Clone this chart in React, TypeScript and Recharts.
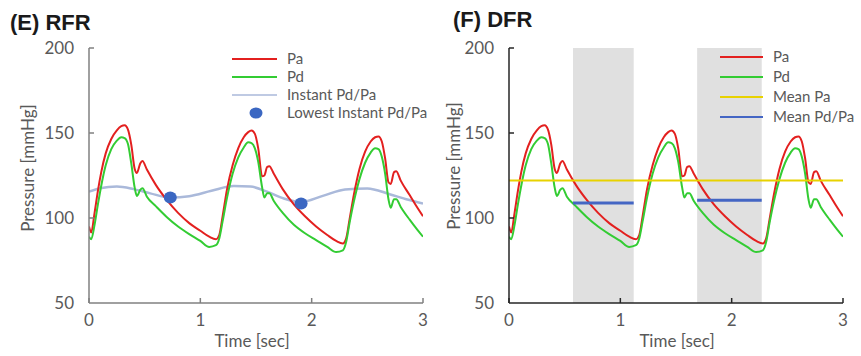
import React from 'react';
import { ComposedChart, Line, XAxis, YAxis, Scatter, ReferenceArea, ReferenceLine, Legend } from 'recharts';

// ---- data ----
const timeSec = [0, 0.02, 0.05, 0.08, 0.11, 0.15, 0.2, 0.25, 0.29, 0.32, 0.35, 0.38, 0.41, 0.43, 0.46, 0.48, 0.52, 0.6, 0.7, 0.8, 0.9, 1.0, 1.08, 1.14, 1.17, 1.2, 1.24, 1.29, 1.34, 1.39, 1.43, 1.46, 1.49, 1.52, 1.555, 1.575, 1.6, 1.62, 1.66, 1.74, 1.84, 1.94, 2.04, 2.14, 2.22, 2.28, 2.31, 2.34, 2.38, 2.43, 2.48, 2.53, 2.57, 2.6, 2.63, 2.66, 2.69, 2.71, 2.74, 2.76, 2.8, 2.88, 2.95, 3.0];
const paValues = [95, 91.5, 103, 116, 127, 138, 146.5, 151.5, 154, 154.5, 152, 143, 129, 126.5, 132, 133.5, 128.5, 119.5, 110.5, 103, 97, 92.5, 89, 87.5, 90, 101, 117, 131, 141, 147.5, 150.5, 151.5, 149.5, 141, 124.5, 125, 130, 130.5, 126, 117, 108, 101, 95, 90, 86.5, 85, 88, 99, 114, 129, 139, 145, 147.5, 148, 145, 135, 121, 120, 127, 127.5, 122, 113.5, 106, 101];
const pdValues = [89, 87.5, 96, 108, 119, 131, 140.5, 145.5, 147.5, 147, 143.5, 132, 118, 113, 116.5, 117.5, 112.5, 107, 100.5, 95, 90.5, 86.5, 83, 84, 88, 98, 112, 126, 135.5, 141.5, 144.5, 144, 141, 133, 118, 112, 114.5, 114.5, 110, 103, 96, 91, 87, 83, 80, 81, 86, 97, 110, 123, 132.5, 138.5, 141, 140.5, 136, 126, 111, 106, 111, 111, 106.5, 99, 93, 89];

const instantTime = [0, 0.1, 0.25, 0.4, 0.55, 0.73, 0.9, 1.1, 1.3, 1.45, 1.6, 1.75, 1.9, 2.1, 2.3, 2.5, 2.7, 2.85, 3.0];
const instantValues = [115.5, 117.5, 118.5, 117, 114.5, 112, 112.8, 116, 118.8, 118.5, 115.5, 111.5, 109.3, 113, 116.8, 117.4, 114, 111, 108.5];

const lowestTime = [0.73, 1.905];
const lowestValues = [112, 108.5];

const meanPaValue = 122;
const windowStart = [0.575, 1.69];
const windowEnd = [1.12, 2.27];
const meanPdPaValues = [108.8, 110.5];

const xTicks = [0, 1, 2, 3];
const yTicks = [50, 100, 150, 200];

const waveData = timeSec.map((t, i) => ({ t, pa: paValues[i], pd: pdValues[i] }));
const instantData = instantTime.map((t, i) => ({ t, v: instantValues[i] }));
const lowestData = lowestTime.map((t, i) => ({ t, v: lowestValues[i] }));
const meanSegments = windowStart.map((s, i) => [
  { t: s, v: meanPdPaValues[i] },
  { t: windowEnd[i], v: meanPdPaValues[i] },
]);

// ---- styles ----
const FONT = 'Lato, "Liberation Sans", Arial, sans-serif';
const TITLE_FONT = '"Liberation Sans", Arial, sans-serif';
const TEXT = '#595959';
const RED = '#e3201f';
const GREEN = '#33cc33';
const LIGHTBLUE = '#aab9da';
const DOT = '#3b67c2';
const YELLOW = '#e8d200';
const MEANBLUE = '#4466c4';

const makeXTick = (color: string) => (props: any) => {
  const { x, y, payload } = props;
  return (
    <g>
      <line x1={x} x2={x} y1={y} y2={y - 5} stroke={color} strokeWidth={1.5} />
      <text x={x} y={y + 23} textAnchor="middle" fill={TEXT} fontSize={17} fontFamily={FONT}>
        {payload.value}
      </text>
    </g>
  );
};

const makeYTick = (color: string) => (props: any) => {
  const { x, y, payload } = props;
  return (
    <g>
      {payload.value !== 50 && <line x1={x} x2={x + 5} y1={y} y2={y} stroke={color} strokeWidth={1.5} />}
      <text x={x - 15} y={y} dy="0.36em" textAnchor="end" fill={TEXT} fontSize={17} fontFamily={FONT}>
        {payload.value}
      </text>
    </g>
  );
};

const yLabel = (cx: number, cy: number) => () => (
  <text
    x={cx}
    y={cy}
    transform={`rotate(-90 ${cx} ${cy})`}
    textAnchor="middle"
    dominantBaseline="central"
    fill={TEXT}
    fontSize={17}
    fontFamily={FONT}
  >
    Pressure [mmHg]
  </text>
);

const xLabel = (cx: number, by: number) => () => (
  <text x={cx} y={by} textAnchor="middle" fill={TEXT} fontSize={17} fontFamily={FONT}>
    Time [sec]
  </text>
);

const LeftLegend = () => (
  <svg width={215} height={76} style={{ display: 'block' }}>
    <line x1={7} x2={52} y1={11} y2={11} stroke={RED} strokeWidth={2} />
    <line x1={7} x2={52} y1={29} y2={29} stroke={GREEN} strokeWidth={2} />
    <line x1={7} x2={52} y1={47} y2={47} stroke={LIGHTBLUE} strokeWidth={1.5} />
    <ellipse cx={31} cy={65} rx={6.5} ry={5.5} fill={DOT} />
    {['Pa', 'Pd', 'Instant Pd/Pa', 'Lowest Instant Pd/Pa'].map((s, i) => (
      <text key={s} x={62} y={11 + 18 * i} dy="0.36em" fill={TEXT} fontSize={15} fontFamily={FONT}>
        {s}
      </text>
    ))}
  </svg>
);

const RightLegend = () => (
  <svg width={145} height={82} style={{ display: 'block' }}>
    <line x1={7} x2={50} y1={10} y2={10} stroke={RED} strokeWidth={2} />
    <line x1={7} x2={50} y1={30} y2={30} stroke={GREEN} strokeWidth={2} />
    <line x1={7} x2={50} y1={50} y2={50} stroke={YELLOW} strokeWidth={2} />
    <line x1={7} x2={50} y1={70} y2={70} stroke={MEANBLUE} strokeWidth={2} />
    {['Pa', 'Pd', 'Mean Pa', 'Mean Pd/Pa'].map((s, i) => (
      <text key={s} x={60} y={10 + 20 * i} dy="0.36em" fill={TEXT} fontSize={15} fontFamily={FONT}>
        {s}
      </text>
    ))}
  </svg>
);

export default function App() {
  const leftAxis = '#808080';
  const rightAxis = '#262626';
  return (
    <div style={{ position: 'absolute', left: 0, top: 0, width: 861, height: 356, background: '#fff' }}>
      <div style={{ position: 'absolute', left: 0, top: 0 }}>
        <ComposedChart width={430} height={356} data={waveData} margin={{ top: 48, right: 7, left: 0, bottom: 0 }}>
          <XAxis
            dataKey="t"
            type="number"
            domain={[0, 3]}
            ticks={xTicks}
            allowDataOverflow
            height={53}
            tickSize={0}
            tickMargin={0}
            tickLine={false}
            axisLine={{ stroke: leftAxis, strokeWidth: 1.5 }}
            tick={makeXTick(leftAxis)}
            label={{ content: xLabel(252, 347) }}
          />
          <YAxis
            type="number"
            domain={[50, 200]}
            ticks={yTicks}
            allowDataOverflow
            width={89}
            tickSize={0}
            tickMargin={0}
            tickLine={false}
            axisLine={{ stroke: leftAxis, strokeWidth: 1.5 }}
            tick={makeYTick(leftAxis)}
            label={{ content: yLabel(27, 168) }}
          />
          <Line data={instantData} dataKey="v" type="monotone" stroke={LIGHTBLUE} strokeWidth={2.5} dot={false} isAnimationActive={false} />
          <Line dataKey="pa" type="monotone" stroke={RED} strokeWidth={2} dot={false} isAnimationActive={false} />
          <Line dataKey="pd" type="monotone" stroke={GREEN} strokeWidth={2} dot={false} isAnimationActive={false} />
          <Scatter
            data={lowestData}
            dataKey="v"
            fill={DOT}
            isAnimationActive={false}
            shape={(p: any) => <ellipse cx={p.cx} cy={p.cy} rx={6.5} ry={6} fill={DOT} />}
          />
          <Legend
            layout="vertical"
            align="center"
            verticalAlign="middle"
            wrapperStyle={{ left: 225, top: 48, width: 215, height: 76 }}
            content={() => <LeftLegend />}
          />
        </ComposedChart>
      </div>
      <div style={{ position: 'absolute', left: 430, top: 0 }}>
        <ComposedChart width={431} height={356} data={waveData} margin={{ top: 48, right: 18, left: 0, bottom: 0 }}>
          <XAxis
            dataKey="t"
            type="number"
            domain={[0, 3]}
            ticks={xTicks}
            allowDataOverflow
            height={53}
            tickSize={0}
            tickMargin={0}
            tickLine={false}
            axisLine={{ stroke: rightAxis, strokeWidth: 1.5 }}
            tick={makeXTick(rightAxis)}
            label={{ content: xLabel(247, 347) }}
          />
          <YAxis
            type="number"
            domain={[50, 200]}
            ticks={yTicks}
            allowDataOverflow
            width={79}
            tickSize={0}
            tickMargin={0}
            tickLine={false}
            axisLine={{ stroke: rightAxis, strokeWidth: 1.5 }}
            tick={makeYTick(rightAxis)}
            label={{ content: yLabel(23, 166) }}
          />
          {windowStart.map((s, i) => (
            <ReferenceArea key={'a' + i} x1={s} x2={windowEnd[i]} y1={50} y2={200} fill="#e0e0e0" fillOpacity={1} stroke="none" />
          ))}
          <Line dataKey="pa" type="monotone" stroke={RED} strokeWidth={2} dot={false} isAnimationActive={false} />
          <Line dataKey="pd" type="monotone" stroke={GREEN} strokeWidth={2} dot={false} isAnimationActive={false} />
          <ReferenceLine y={meanPaValue} stroke={YELLOW} strokeWidth={2} />
          {meanSegments.map((seg, i) => (
            <Line key={'m' + i} data={seg} dataKey="v" type="linear" stroke={MEANBLUE} strokeWidth={3} dot={false} isAnimationActive={false} />
          ))}
          <Legend
            layout="vertical"
            align="center"
            verticalAlign="middle"
            wrapperStyle={{ left: 283, top: 47, width: 145, height: 82 }}
            content={() => <RightLegend />}
          />
        </ComposedChart>
      </div>
      <svg width={861} height={40} style={{ position: 'absolute', left: 0, top: 0, pointerEvents: 'none' }}>
        <text x={10} y={30} fontSize={22} fontWeight="bold" fill="#1a1a1a" fontFamily={TITLE_FONT}>(E) RFR</text>
        <text x={453} y={27} fontSize={22} fontWeight="bold" fill="#1a1a1a" fontFamily={TITLE_FONT}>(F) DFR</text>
      </svg>
    </div>
  );
}
